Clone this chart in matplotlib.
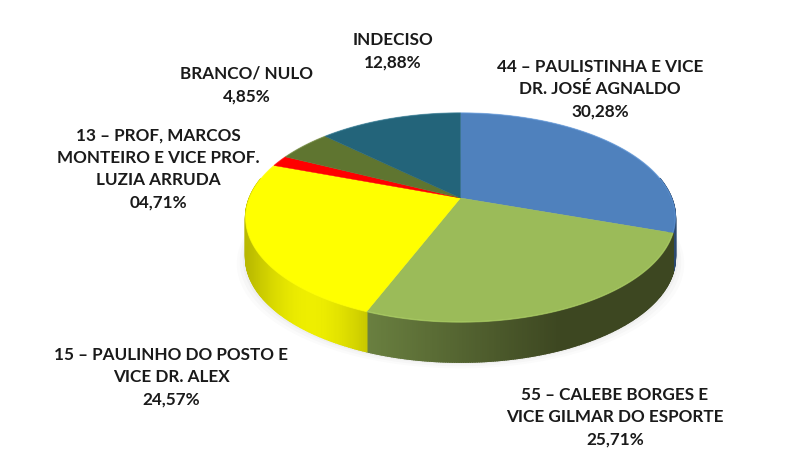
import numpy as np
import matplotlib
matplotlib.use("Agg")
import matplotlib.pyplot as plt
from matplotlib.colors import to_rgb

# Data
candidates = ["44", "55", "15", "13", "Branco/Nulo", "Indeciso"]
slice_values = [30.28, 25.71, 24.57, 1.71, 4.85, 12.88]
slice_labels = [
    "44 – PAULISTINHA E VICE\nDR. JOSÉ AGNALDO\n30,28%",
    "55 – CALEBE BORGES E\nVICE GILMAR DO ESPORTE\n25,71%",
    "15 – PAULINHO DO POSTO E\nVICE DR. ALEX\n24,57%",
    "13 – PROF, MARCOS\nMONTEIRO E VICE PROF.\nLUZIA ARRUDA\n04,71%",
    "BRANCO/ NULO\n4,85%",
    "INDECISO\n12,88%",
]
top_colors = ["#4f81bd", "#9bbb59", "#ffff00", "#ff0000", "#5f7530", "#23647a"]
side_left = ["#2f4f78", "#6a8040", "#e6e600", "#b00000", "#404f20", "#163f4c"]
side_right = ["#2c4a70", "#3d4721", "#cfcf00", "#a00000", "#404f20", "#163f4c"]
label_xy = [(600, 89), (615, 417), (171, 377), (158, 169), (247, 85), (393, 51)]

# Perspective disc geometry, in pixels
CX, CY, A, B, K, DEPTH = 460.5, 198, 211, 100.9, 0.1866, 40


def project(theta):
    u, v = np.sin(theta), np.cos(theta)
    w = 1 + K * v
    return CX + A * u / w, CY - B * v / w


fig = plt.figure(figsize=(8, 4.5), dpi=100, facecolor="white")
ax = fig.add_axes([0, 0, 1, 1])
ax.set_xlim(0, 800)
ax.set_ylim(450, 0)
ax.axis("off")

edges = np.radians(np.concatenate([[0], np.cumsum(slice_values)]) * 3.6)

# soft shadow under the disc
full = np.linspace(0, 2 * np.pi, 361)
sx, sy = project(full)
for grow, alpha in zip([9, 6, 3, 1], [0.03, 0.04, 0.05, 0.06]):
    ax.fill((sx - CX) * (1 + grow / 216) + CX, sy + DEPTH + grow * 0.7,
            color="#808080", alpha=alpha, lw=0, zorder=1)

# side wall, painted as short strips with a horizontal gradient
for i, (t0, t1) in enumerate(zip(edges[:-1], edges[1:])):
    ts = np.linspace(t0, t1, max(3, int(np.degrees(t1 - t0))) * 2)
    xs, ys = project(ts)
    c0, c1 = np.array(to_rgb(side_left[i])), np.array(to_rgb(side_right[i]))
    xmin, xmax = xs.min(), xs.max()
    for j in range(len(ts) - 1):
        xa, xb, ya, yb = xs[j], xs[j + 1], ys[j], ys[j + 1]
        if np.pi / 2 - 0.2 < (ts[j] + ts[j + 1]) / 2 < 3 * np.pi / 2 + 0.2:
            f = ((xa + xb) / 2 - xmin) / max(xmax - xmin, 1)
            col = c0 + (c1 - c0) * min(1, f * 1.6)
            if i == 2:
                col = c0 * (0.8 + 0.2 * np.sin(np.pi * f)) + np.array([0.06, 0.06, 0]) * f
                col = np.clip(col, 0, 1)
            ax.fill([xa, xb, xb, xa], [ya, yb, yb + DEPTH, ya + DEPTH],
                    facecolor=col, edgecolor=col, lw=1.2, zorder=2)

# top surface
for i, (t0, t1) in enumerate(zip(edges[:-1], edges[1:])):
    ts = np.linspace(t0, t1, max(3, int(np.degrees(t1 - t0)) * 2))
    xs, ys = project(ts)
    ax.fill(np.r_[CX, xs], np.r_[CY, ys], color=top_colors[i], lw=0.3,
            ec=top_colors[i], zorder=3)
    # light rim on the near edge
    lit = np.clip(np.array(to_rgb(top_colors[i])) * 1.12 + 0.04, 0, 1)
    ax.plot(xs, ys, color=lit, lw=1.0, alpha=0.5, zorder=4, solid_capstyle="butt")

# labels
for text, (x, y) in zip(slice_labels, label_xy):
    ax.text(x, y, text, family="Lato", fontweight="bold", fontsize=12.3,
            color="#1a1a1a", ha="center", va="center", multialignment="center",
            linespacing=1.5, zorder=5)

fig.savefig("out.png", dpi=100, facecolor="white")
